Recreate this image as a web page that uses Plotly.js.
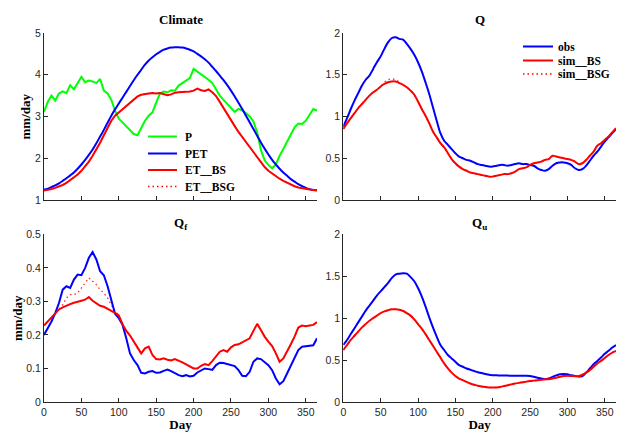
<!DOCTYPE html>
<html>
<head>
<meta charset="utf-8">
<script src="https://cdn.plot.ly/plotly-3.0.1.min.js"></script>
<style>html,body{margin:0;padding:0;background:#fff;}#chart{width:618px;height:432px;}</style>
</head>
<body>
<div id="chart"></div>
<script>
// ---- data (mm/day) ----
const days = [0,5,10,15,20,25,30,35,40,45,50,55,60,65,70,75,80,85,90,95,100,105,110,115,120,125,130,135,140,145,150,155,160,165,170,175,180,185,190,195,200,205,210,215,220,225,230,235,240,245,250,255,260,265,270,275,280,285,290,295,300,305,310,315,320,325,330,335,340,345,350,355,360,365];

// Climate panel
const P = [3.11,3.35,3.50,3.38,3.55,3.60,3.56,3.75,3.65,3.80,3.95,3.82,3.86,3.84,3.80,3.90,3.62,3.55,3.40,3.14,2.95,2.86,2.76,2.66,2.58,2.55,2.72,2.90,3.02,3.10,3.33,3.55,3.60,3.58,3.63,3.62,3.74,3.80,3.86,3.92,4.14,4.08,4.02,3.95,3.88,3.80,3.66,3.50,3.40,3.30,3.20,3.11,3.18,3.15,3.08,3.00,2.88,2.62,2.20,1.95,1.84,1.76,1.85,2.06,2.22,2.40,2.55,2.74,2.83,2.82,2.90,3.05,3.18,3.14];
const PET = [1.25,1.27,1.31,1.35,1.40,1.46,1.52,1.59,1.66,1.75,1.85,1.96,2.08,2.21,2.36,2.52,2.68,2.85,3.02,3.17,3.31,3.45,3.59,3.73,3.87,4.00,4.12,4.24,4.34,4.42,4.49,4.55,4.60,4.63,4.65,4.66,4.66,4.65,4.63,4.60,4.56,4.50,4.44,4.37,4.29,4.19,4.09,3.98,3.87,3.75,3.62,3.48,3.33,3.18,3.02,2.86,2.70,2.54,2.38,2.23,2.09,1.96,1.85,1.75,1.66,1.58,1.50,1.44,1.38,1.33,1.29,1.26,1.24,1.23];
const ET_BS = [1.23,1.24,1.26,1.29,1.32,1.36,1.41,1.47,1.53,1.61,1.70,1.80,1.92,2.06,2.21,2.37,2.55,2.74,2.90,3.02,3.10,3.17,3.26,3.33,3.40,3.48,3.52,3.54,3.55,3.56,3.55,3.56,3.53,3.51,3.53,3.57,3.58,3.58,3.59,3.60,3.62,3.67,3.63,3.61,3.65,3.58,3.49,3.35,3.20,3.04,2.90,2.77,2.63,2.50,2.39,2.27,2.15,2.03,1.90,1.79,1.70,1.63,1.57,1.51,1.46,1.41,1.37,1.33,1.30,1.28,1.26,1.25,1.24,1.24];
const ET_BSG = [1.23,1.24,1.26,1.29,1.32,1.36,1.41,1.47,1.53,1.61,1.70,1.80,1.92,2.06,2.21,2.37,2.55,2.74,2.90,3.02,3.10,3.17,3.26,3.33,3.40,3.48,3.52,3.54,3.55,3.56,3.55,3.56,3.53,3.51,3.53,3.57,3.58,3.58,3.59,3.60,3.62,3.67,3.63,3.61,3.65,3.58,3.49,3.35,3.20,3.04,2.90,2.77,2.63,2.50,2.39,2.27,2.15,2.03,1.90,1.79,1.70,1.63,1.57,1.51,1.46,1.41,1.37,1.33,1.30,1.28,1.26,1.25,1.24,1.24];

// Q panel
const Q_obs = [0.88,0.98,1.09,1.19,1.28,1.37,1.44,1.49,1.57,1.65,1.72,1.81,1.89,1.94,1.95,1.93,1.92,1.87,1.81,1.74,1.65,1.54,1.41,1.27,1.11,0.95,0.80,0.71,0.66,0.61,0.56,0.52,0.50,0.48,0.47,0.45,0.43,0.42,0.41,0.40,0.40,0.41,0.42,0.42,0.41,0.42,0.43,0.44,0.43,0.43,0.42,0.41,0.38,0.36,0.35,0.37,0.41,0.44,0.45,0.45,0.44,0.42,0.38,0.36,0.37,0.41,0.47,0.53,0.58,0.64,0.70,0.75,0.80,0.85];
const Q_BS = [0.85,0.92,0.98,1.04,1.10,1.15,1.20,1.25,1.29,1.32,1.36,1.39,1.41,1.42,1.42,1.40,1.38,1.35,1.31,1.26,1.18,1.09,1.01,0.92,0.82,0.75,0.68,0.63,0.56,0.49,0.44,0.40,0.37,0.35,0.33,0.32,0.31,0.30,0.29,0.28,0.28,0.29,0.30,0.31,0.31,0.32,0.34,0.37,0.38,0.39,0.42,0.44,0.45,0.46,0.48,0.49,0.53,0.52,0.51,0.50,0.49,0.48,0.46,0.43,0.44,0.48,0.53,0.58,0.65,0.68,0.72,0.76,0.81,0.86];
const Q_BSG = [0.85,0.92,0.98,1.04,1.10,1.15,1.20,1.25,1.29,1.32,1.36,1.41,1.44,1.45,1.44,1.41,1.38,1.35,1.31,1.26,1.18,1.09,1.01,0.92,0.82,0.75,0.68,0.63,0.56,0.49,0.44,0.40,0.37,0.35,0.33,0.32,0.31,0.30,0.29,0.28,0.28,0.29,0.30,0.31,0.31,0.32,0.34,0.37,0.38,0.39,0.42,0.44,0.45,0.46,0.48,0.49,0.53,0.52,0.51,0.50,0.49,0.48,0.46,0.43,0.44,0.48,0.53,0.58,0.65,0.68,0.72,0.76,0.81,0.86];

// Qf panel
const Qf_obs = [0.200,0.220,0.240,0.265,0.295,0.335,0.345,0.340,0.365,0.380,0.378,0.400,0.430,0.447,0.425,0.390,0.378,0.345,0.300,0.263,0.250,0.230,0.190,0.145,0.125,0.110,0.087,0.085,0.090,0.092,0.087,0.088,0.093,0.097,0.092,0.085,0.080,0.077,0.080,0.076,0.078,0.088,0.095,0.100,0.098,0.096,0.110,0.117,0.116,0.113,0.110,0.107,0.095,0.078,0.077,0.090,0.120,0.130,0.128,0.120,0.110,0.095,0.070,0.053,0.062,0.085,0.110,0.130,0.155,0.165,0.167,0.168,0.169,0.190];
const Qf_BS = [0.228,0.240,0.250,0.265,0.276,0.282,0.288,0.292,0.296,0.300,0.302,0.305,0.313,0.302,0.294,0.287,0.284,0.279,0.272,0.266,0.258,0.232,0.212,0.198,0.180,0.160,0.145,0.160,0.165,0.140,0.128,0.127,0.130,0.126,0.124,0.128,0.124,0.118,0.112,0.105,0.100,0.100,0.108,0.113,0.110,0.122,0.135,0.150,0.155,0.150,0.163,0.170,0.172,0.178,0.185,0.190,0.212,0.233,0.215,0.195,0.180,0.167,0.145,0.120,0.130,0.150,0.172,0.195,0.222,0.228,0.226,0.228,0.230,0.238];
const Qf_BSG = [0.228,0.240,0.250,0.265,0.276,0.290,0.310,0.320,0.320,0.325,0.340,0.355,0.370,0.360,0.350,0.335,0.325,0.310,0.290,0.270,0.258,0.232,0.212,0.198,0.180,0.160,0.145,0.160,0.165,0.140,0.128,0.127,0.130,0.126,0.124,0.128,0.124,0.118,0.112,0.105,0.100,0.100,0.108,0.113,0.110,0.122,0.135,0.150,0.155,0.150,0.163,0.170,0.172,0.178,0.185,0.190,0.212,0.233,0.215,0.195,0.180,0.167,0.145,0.120,0.130,0.150,0.172,0.195,0.222,0.228,0.226,0.228,0.230,0.238];

// Qu panel
const Qu_obs = [0.68,0.74,0.81,0.88,0.95,1.02,1.09,1.15,1.21,1.27,1.32,1.37,1.42,1.48,1.52,1.53,1.535,1.53,1.49,1.44,1.36,1.26,1.14,1.01,0.89,0.78,0.68,0.62,0.56,0.52,0.48,0.44,0.42,0.40,0.385,0.37,0.355,0.345,0.335,0.325,0.32,0.318,0.317,0.316,0.315,0.313,0.312,0.312,0.313,0.313,0.31,0.30,0.29,0.28,0.272,0.28,0.30,0.318,0.33,0.335,0.33,0.318,0.31,0.305,0.31,0.35,0.40,0.45,0.49,0.53,0.575,0.61,0.65,0.68];
const Qu_BS = [0.62,0.68,0.74,0.79,0.84,0.89,0.93,0.97,1.00,1.03,1.06,1.08,1.095,1.105,1.107,1.10,1.085,1.06,1.03,0.985,0.93,0.875,0.81,0.74,0.67,0.60,0.53,0.46,0.40,0.35,0.31,0.28,0.26,0.24,0.22,0.205,0.195,0.185,0.178,0.174,0.172,0.174,0.18,0.19,0.20,0.21,0.22,0.228,0.235,0.243,0.25,0.255,0.26,0.265,0.27,0.272,0.28,0.29,0.30,0.31,0.312,0.31,0.307,0.307,0.325,0.35,0.38,0.42,0.46,0.49,0.525,0.56,0.59,0.61];
const Qu_BSG = [0.62,0.68,0.74,0.79,0.84,0.89,0.93,0.97,1.00,1.03,1.06,1.08,1.095,1.105,1.107,1.10,1.085,1.06,1.03,0.985,0.93,0.875,0.81,0.74,0.67,0.60,0.53,0.46,0.40,0.35,0.31,0.28,0.26,0.24,0.22,0.205,0.195,0.185,0.178,0.174,0.172,0.174,0.18,0.19,0.20,0.21,0.22,0.228,0.235,0.243,0.25,0.255,0.26,0.265,0.27,0.272,0.28,0.29,0.30,0.31,0.312,0.31,0.307,0.307,0.325,0.35,0.38,0.42,0.46,0.49,0.525,0.56,0.59,0.61];

// tick labels and texts
const dayTicks = [0,50,100,150,200,250,300,350];
const panelTitles = ['Climate','Q','Q<sub>f</sub>','Q<sub>u</sub>'];
const climateLegend = ['P','PET','ET__BS','ET__BSG'];
const qLegend = ['obs','sim__BS','sim__BSG'];

// ---- styling ----
const GREEN='#00ff00', BLUE='#0000ff', RED='#ff0000';
const SERIF='"Liberation Serif", "Times New Roman", serif';
const SANS='"Liberation Sans", Arial, sans-serif';
const AX='#262626';
const DOT='1.5px,3px';

function ln(x,y,xa,ya,color,dotted,shape){
  return {x:x,y:y,xaxis:xa,yaxis:ya,type:'scatter',mode:'lines',
    line:{color:color,width:dotted?1.3:2,dash:dotted?DOT:'solid',shape:shape||'linear'},
    opacity:dotted?0.85:1,showlegend:false,hoverinfo:'skip'};
}

const data = [
  ln(days,P,'x','y',GREEN),
  ln(days,PET,'x','y',BLUE,false,'spline'),
  ln(days,ET_BSG,'x','y',RED,true),
  ln(days,ET_BS,'x','y',RED),
  ln(days,Q_BSG,'x2','y2',RED,true,'spline'),
  ln(days,Q_obs,'x2','y2',BLUE,false,'spline'),
  ln(days,Q_BS,'x2','y2',RED,false,'spline'),
  ln(days,Qf_BSG,'x3','y3',RED,true),
  ln(days,Qf_obs,'x3','y3',BLUE),
  ln(days,Qf_BS,'x3','y3',RED),
  ln(days,Qu_BSG,'x4','y4',RED,true,'spline'),
  ln(days,Qu_obs,'x4','y4',BLUE,false,'spline'),
  ln(days,Qu_BS,'x4','y4',RED,false,'spline')
];

const W=618,H=432,ML=44,MR=2,MT=33,MB=30;
const PW=W-ML-MR, PH=H-MT-MB;
const px=v=>(v-ML)/PW, py=v=>(H-MB-v)/PH;

function xa(dom,showLabels,titleText){
  const a={domain:dom,range:[0,365],tickvals:dayTicks,ticktext:dayTicks.map(String),
    showticklabels:showLabels,ticks:'inside',ticklen:4,tickcolor:AX,tickwidth:1,
    showline:true,linecolor:AX,linewidth:1,showgrid:false,zeroline:false,
    tickfont:{family:SANS,size:10.5,color:AX}};
  if(titleText) a.title={text:titleText,font:{family:SERIF,size:13,color:'#000'},standoff:1};
  return a;
}
function ya(dom,range,dtick){
  return {domain:dom,range:range,dtick:dtick,tick0:0,ticks:'inside',ticklen:4,tickcolor:AX,tickwidth:1,
    showline:true,linecolor:AX,linewidth:1,showgrid:false,zeroline:false,
    tickfont:{family:SANS,size:10.5,color:AX}};
}

const xL=[0,px(317)], xR=[px(343.3),1];
const yT=[py(200),1], yB=[0,py(234.3)];

const annotations = [];
const titlePos=[[180.5,20],[479.5,20],[180.5,223],[479.5,223]];
panelTitles.forEach((t,i)=>{
  annotations.push({xref:'paper',yref:'paper',x:px(titlePos[i][0]),y:py(titlePos[i][1]),
    xanchor:'center',yanchor:'middle',showarrow:false,text:'<b>'+t+'</b>',
    font:{family:SERIF,size:13,color:'#000'}});
});
// y-axis titles
[[25,116.5],[17,318]].forEach(p=>{
  annotations.push({xref:'paper',yref:'paper',x:px(p[0]),y:py(p[1]),xanchor:'center',yanchor:'middle',
    showarrow:false,textangle:-90,text:'<b>mm/day</b>',font:{family:SERIF,size:13,color:'#000'}});
});

const shapes=[];
// Climate legend
const cl=[[GREEN,false],[BLUE,false],[RED,false],[RED,true]];
const clY=[136.5,153.5,170,186.5];
climateLegend.forEach((t,i)=>{
  shapes.push({type:'line',xref:'paper',yref:'paper',x0:px(148),x1:px(177),y0:py(clY[i]),y1:py(clY[i]),
    line:{color:cl[i][0],width:cl[i][1]?1.3:2,dash:cl[i][1]?DOT:'solid'}});
  annotations.push({xref:'paper',yref:'paper',x:px(183),y:py(clY[i]),xanchor:'left',yanchor:'middle',
    showarrow:false,text:'<b>'+t+'</b>',font:{family:SERIF,size:11.5,color:'#000'}});
});
// Q legend
const ql=[[BLUE,false],[RED,false],[RED,true]];
const qlY=[46.5,60.5,74];
qLegend.forEach((t,i)=>{
  shapes.push({type:'line',xref:'paper',yref:'paper',x0:px(523),x1:px(553),y0:py(qlY[i]),y1:py(qlY[i]),
    line:{color:ql[i][0],width:ql[i][1]?1.3:2,dash:ql[i][1]?DOT:'solid'}});
  annotations.push({xref:'paper',yref:'paper',x:px(556),y:py(qlY[i]),xanchor:'left',yanchor:'middle',
    showarrow:false,text:'<b>'+t+'</b>',font:{family:SERIF,size:11.5,color:'#000'}});
});

const layout = {
  width:W,height:H,margin:{l:ML,r:MR,t:MT,b:MB},
  paper_bgcolor:'#fff',plot_bgcolor:'#fff',showlegend:false,
  xaxis:xa(xL,false),yaxis:ya(yT,[1,5],1),
  xaxis2:xa(xR,false),yaxis2:ya(yT,[0,2],0.5),
  xaxis3:xa(xL,true,'<b>Day</b>'),yaxis3:ya(yB,[0,0.5],0.1),
  xaxis4:xa(xR,true,'<b>Day</b>'),yaxis4:ya(yB,[0,2],0.5),
  annotations:annotations,shapes:shapes
};
layout.xaxis.anchor='y'; layout.yaxis.anchor='x';
layout.xaxis2.anchor='y2'; layout.yaxis2.anchor='x2';
layout.xaxis3.anchor='y3'; layout.yaxis3.anchor='x3';
layout.xaxis4.anchor='y4'; layout.yaxis4.anchor='x4';

Plotly.newPlot('chart',data,layout,{staticPlot:true,displayModeBar:false});
</script>
</body>
</html>
